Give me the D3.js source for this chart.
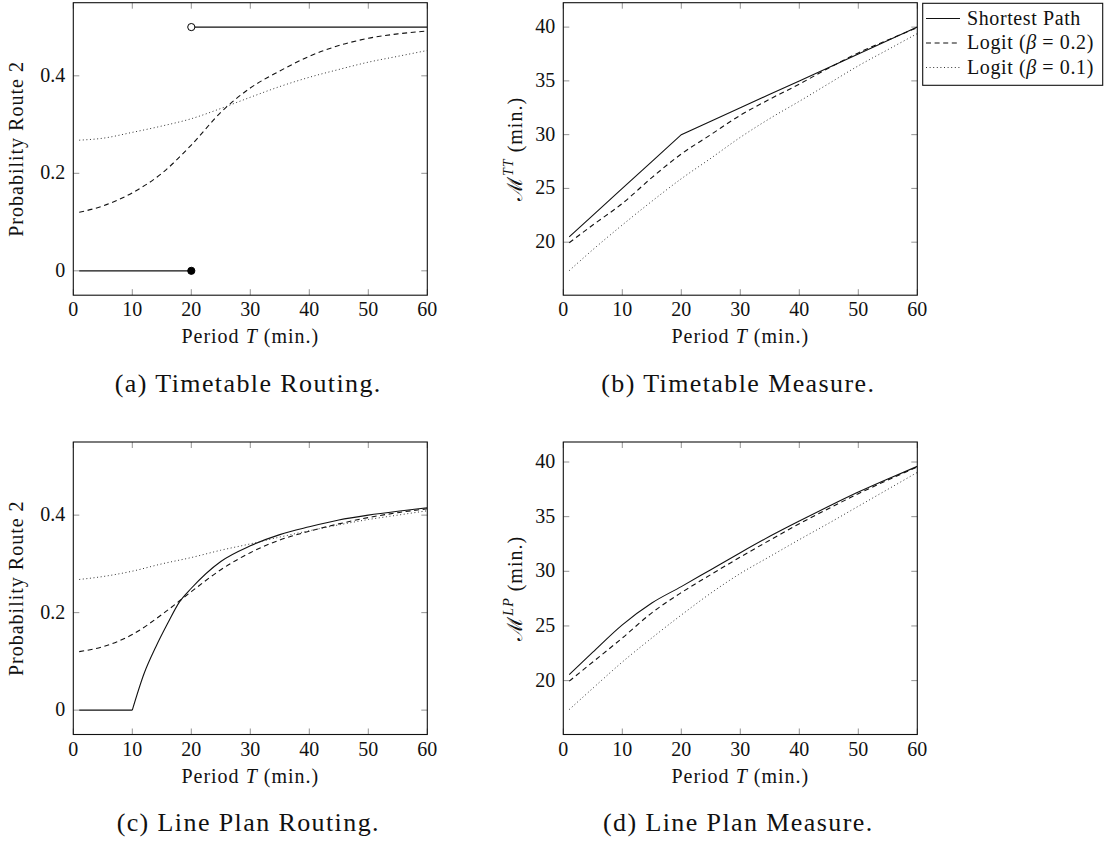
<!DOCTYPE html>
<html><head><meta charset="utf-8">
<script src="https://cdn.jsdelivr.net/npm/d3@7"></script>
<style>
body{margin:0;background:#fff;}
svg text{font-family:"Liberation Serif","Times New Roman",serif;fill:#111;}
</style></head>
<body>
<svg id="c" width="1108" height="845"></svg>
<script>
// ---------- data ----------
const xTicks = [0, 10, 20, 30, 40, 50, 60];
const probTicks = [0, 0.2, 0.4];
const measureTicks = [20, 25, 30, 35, 40];
const T = [1, 5, 10, 15, 20, 25, 30, 35, 40, 45, 50, 55, 60];
const seriesNames = ["Shortest Path", "Logit (β = 0.2)", "Logit (β = 0.1)"];

// (a) Timetable Routing
const aSpLowX = [1, 20], aSpLow = [0, 0];
const aSpHighX = [20, 60], aSpHigh = [0.5, 0.5];
const aLogit02 = [0.12, 0.133, 0.16, 0.20, 0.258, 0.325, 0.375, 0.41, 0.44, 0.462, 0.477, 0.486, 0.492];
const aLogit01 = [0.268, 0.272, 0.284, 0.297, 0.312, 0.333, 0.356, 0.378, 0.397, 0.413, 0.428, 0.44, 0.452];

// (b) Timetable Measure
const bSp = [20.5, 22.5, 25.0, 27.5, 30.0, 31.25, 32.5, 33.75, 35.0, 36.25, 37.5, 38.75, 40.0];
const bLogit02 = [19.95, 21.6, 23.6, 26.0, 28.2, 30.0, 31.8, 33.3, 34.7, 36.2, 37.6, 38.8, 39.95];
const bLogit01 = [17.35, 19.3, 21.6, 23.8, 25.9, 27.8, 29.75, 31.5, 33.1, 34.75, 36.4, 37.9, 39.4];

// (c) Line Plan Routing
const cSpFlatX = [1, 10], cSpFlat = [0, 0];
const cSpRiseX = [10, 12, 14, 16, 18, 20, 25, 30, 35, 40, 45, 50, 55, 60];
const cSpRise = [0, 0.075, 0.13, 0.178, 0.222, 0.25, 0.305, 0.337, 0.36, 0.376, 0.39, 0.40, 0.408, 0.415];
const cLogit02 = [0.12, 0.13, 0.155, 0.196, 0.243, 0.288, 0.323, 0.349, 0.367, 0.382, 0.395, 0.405, 0.413];
const cLogit01 = [0.268, 0.274, 0.285, 0.30, 0.313, 0.328, 0.341, 0.355, 0.368, 0.38, 0.391, 0.40, 0.409];

// (d) Line Plan Measure
const dSp = [20.55, 22.6, 25.1, 27.1, 28.6, 30.15, 31.7, 33.2, 34.6, 35.95, 37.25, 38.45, 39.6];
const dLogit02 = [19.95, 21.7, 23.9, 26.2, 28.05, 29.7, 31.3, 32.85, 34.35, 35.75, 37.1, 38.35, 39.55];
const dLogit01 = [17.35, 19.3, 21.7, 23.9, 26.0, 28.0, 29.8, 31.35, 32.9, 34.4, 35.95, 37.5, 39.05];

const captions = ["(a) Timetable Routing.", "(b) Timetable Measure.", "(c) Line Plan Routing.", "(d) Line Plan Measure."];

// ---------- styles ----------
const styles = {
  solid:  {dash: null,    color: "#111", width: 1.1},
  dashed: {dash: "5,3.6", color: "#111", width: 1.1},
  dotted: {dash: "1,2.6", color: "#333", width: 1.0}
};

const svg = d3.select("#c");
const FONT = 20;
const LS = "1px";

function zip(xs, ys){ return xs.map((x,i)=>[x, ys[i]]); }

function panel(o){
  const x = d3.scaleLinear().domain([0,60]).range([o.x0, o.x0+o.w]);
  const y = d3.scaleLinear().domain(o.yDomain).range([o.y0+o.h, o.y0]);
  const g = svg.append("g");
  const clipId = "clip"+o.id;
  svg.append("clipPath").attr("id", clipId).append("rect")
    .attr("x", o.x0).attr("y", o.y0).attr("width", o.w).attr("height", o.h);

  // ticks inside on all four sides
  const tl = 6;
  const tg = g.append("g").attr("stroke", "#777").attr("stroke-width", 0.8);
  xTicks.forEach(v=>{
    tg.append("line").attr("x1", x(v)).attr("x2", x(v)).attr("y1", o.y0+o.h).attr("y2", o.y0+o.h-tl);
    tg.append("line").attr("x1", x(v)).attr("x2", x(v)).attr("y1", o.y0).attr("y2", o.y0+tl);
  });
  o.yTicks.forEach(v=>{
    tg.append("line").attr("x1", o.x0).attr("x2", o.x0+tl).attr("y1", y(v)).attr("y2", y(v));
    tg.append("line").attr("x1", o.x0+o.w).attr("x2", o.x0+o.w-tl).attr("y1", y(v)).attr("y2", y(v));
  });

  // series
  const lg = g.append("g").attr("clip-path", `url(#${clipId})`);
  o.series.forEach(s=>{
    const st = styles[s.style];
    const line = d3.line().x(d=>x(d[0])).y(d=>y(d[1])).curve(s.curve || d3.curveMonotoneX);
    lg.append("path").attr("d", line(zip(s.x, s.y)))
      .attr("fill", "none").attr("stroke", st.color).attr("stroke-width", st.width)
      .attr("stroke-dasharray", st.dash);
  });
  if (o.markers) o.markers.forEach(m=>{
    g.append("circle").attr("cx", x(m.x)).attr("cy", y(m.y)).attr("r", 3.6)
      .attr("fill", m.filled ? "#000" : "#fff").attr("stroke", "#000").attr("stroke-width", 1);
  });

  // frame
  g.append("rect").attr("x", o.x0).attr("y", o.y0).attr("width", o.w).attr("height", o.h)
    .attr("fill", "none").attr("stroke", "#111").attr("stroke-width", 1.1);

  // tick labels
  xTicks.forEach(v=>{
    g.append("text").attr("x", x(v)).attr("y", o.y0+o.h+21).attr("text-anchor", "middle")
      .attr("font-size", FONT).text(v);
  });
  o.yTicks.forEach(v=>{
    g.append("text").attr("x", o.x0-8).attr("y", y(v)+6).attr("text-anchor", "end")
      .attr("font-size", FONT).text(String(v));
  });

  // x label
  const xl = g.append("text").attr("x", o.x0+o.w/2).attr("y", o.y0+o.h+48)
    .attr("text-anchor", "middle").attr("font-size", FONT).attr("letter-spacing", LS);
  xl.append("tspan").text("Period ");
  xl.append("tspan").attr("font-style", "italic").text("T");
  xl.append("tspan").text(" (min.)");

  // y label
  const cy = o.y0+o.h/2;
  const yl = g.append("text").attr("transform", `translate(${o.ylx},${cy}) rotate(-90)`)
    .attr("text-anchor", "middle").attr("font-size", FONT).attr("letter-spacing", LS);
  if (o.ylabel.sup){
    yl.append("tspan").attr("font-family", "DejaVu Serif").attr("font-size", 21).text("ℳ");
    yl.append("tspan").attr("font-style", "italic").attr("font-size", 14).attr("dy", -9).text(o.ylabel.sup);
    yl.append("tspan").attr("dy", 9).text(" (min.)");
  } else {
    yl.text(o.ylabel.text);
  }

  // caption
  svg.append("text").attr("x", o.x0+o.w/2-2).attr("y", o.capY)
    .attr("text-anchor", "middle").attr("font-size", 26).attr("letter-spacing", "1.4px").text(o.caption);
}

const W = 354, H = 292.5;
const probDomain = [-0.05, 0.55];

panel({id:"a", x0:73.3, y0:2.7, w:W, h:H, yDomain:probDomain, yTicks:probTicks, ylx:23,
  ylabel:{text:"Probability Route 2"}, caption:captions[0], capY:392,
  series:[
    {x:aSpLowX, y:aSpLow, style:"solid", curve:d3.curveLinear},
    {x:aSpHighX, y:aSpHigh, style:"solid", curve:d3.curveLinear},
    {x:T, y:aLogit02, style:"dashed"},
    {x:T, y:aLogit01, style:"dotted"}
  ],
  markers:[{x:20, y:0, filled:true},{x:20, y:0.5, filled:false}]
});

panel({id:"b", x0:563.3, y0:2.7, w:W, h:H, yDomain:[15.07, 42.27], yTicks:measureTicks, ylx:522,
  ylabel:{sup:"TT"}, caption:captions[1], capY:392,
  series:[
    {x:T, y:bSp, style:"solid", curve:d3.curveLinear},
    {x:T, y:bLogit02, style:"dashed"},
    {x:T, y:bLogit01, style:"dotted"}
  ]
});

panel({id:"c", x0:73.3, y0:442, w:W, h:H, yDomain:probDomain, yTicks:probTicks, ylx:23,
  ylabel:{text:"Probability Route 2"}, caption:captions[2], capY:831,
  series:[
    {x:cSpFlatX, y:cSpFlat, style:"solid", curve:d3.curveLinear},
    {x:cSpRiseX, y:cSpRise, style:"solid"},
    {x:T, y:cLogit02, style:"dashed"},
    {x:T, y:cLogit01, style:"dotted"}
  ]
});

panel({id:"d", x0:563.3, y0:442, w:W, h:H, yDomain:[15.07, 41.83], yTicks:measureTicks, ylx:522,
  ylabel:{sup:"LP"}, caption:captions[3], capY:831,
  series:[
    {x:T, y:dSp, style:"solid"},
    {x:T, y:dLogit02, style:"dashed"},
    {x:T, y:dLogit01, style:"dotted"}
  ]
});

// legend
const lgd = svg.append("g");
lgd.append("rect").attr("x", 922.7).attr("y", 3.3).attr("width", 180).attr("height", 82)
  .attr("fill", "#fff").attr("stroke", "#111").attr("stroke-width", 1.1);
const legStyles = ["solid", "dashed", "dotted"];
seriesNames.forEach((name, i)=>{
  const yy = 18.5 + i*24.5;
  const st = styles[legStyles[i]];
  lgd.append("line").attr("x1", 926).attr("x2", 960).attr("y1", yy).attr("y2", yy)
    .attr("stroke", st.color).attr("stroke-width", st.width).attr("stroke-dasharray", st.dash);
  const t = lgd.append("text").attr("x", 967).attr("y", yy+6).attr("font-size", FONT).attr("letter-spacing", "0.6px");
  if (i === 0) t.text(name);
  else {
    const beta = name.match(/= (.*)\)/)[1];
    t.append("tspan").text("Logit (");
    t.append("tspan").attr("font-style", "italic").text("β");
    t.append("tspan").text(" = " + beta + ")");
  }
});
</script>
</body></html>
